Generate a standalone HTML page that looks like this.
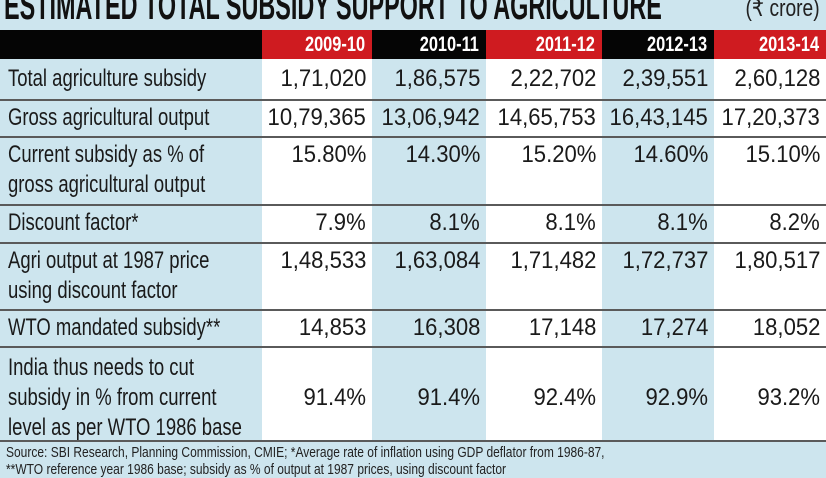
<!DOCTYPE html>
<html><head><meta charset="utf-8"><style>
*{margin:0;padding:0;box-sizing:border-box}
body{width:826px;height:465px;overflow:hidden;background:#cde5ee;position:relative;font-family:"Liberation Sans",sans-serif;color:#1a1a1a}
.a{position:absolute}
.title{left:4px;top:-16px;font-size:40px;font-weight:bold;white-space:nowrap;color:#111;transform:scaleX(0.585);transform-origin:left top}
.unit{right:6px;top:-6px;font-size:24px;color:#222;transform:scaleX(0.8);transform-origin:right top;white-space:nowrap}
.col{position:absolute;top:59px;height:382px}
.hd{position:absolute;top:30px;height:29px;color:#fff;font-weight:bold;font-size:21px;line-height:29px}
.hd span{position:absolute;right:7px;transform:scaleX(0.78);transform-origin:right center}
.line{position:absolute;left:0;width:826px;height:2px;background:#5a5a5a}
.lab{position:absolute;left:8px;font-size:24px;line-height:30px;white-space:nowrap;transform:scaleX(0.77);transform-origin:left top}
.v{position:absolute;font-size:24px;line-height:30px;white-space:nowrap;transform:scaleX(0.92);transform-origin:right top}
.foot{left:6px;font-size:15px;white-space:nowrap;color:#222;transform:scaleX(0.8);transform-origin:left top}
</style></head><body>
<div class="a title">ESTIMATED TOTAL SUBSIDY SUPPORT TO AGRICULTURE</div>
<div class="a unit">(₹ crore)</div>
<div class="a" style="left:0;top:30px;width:826px;height:29px;background:#050505"></div>
<div class="hd" style="left:262px;width:110px;background:#cf1b20"><span>2009-10</span></div>
<div class="hd" style="left:372px;width:114px"><span>2010-11</span></div>
<div class="hd" style="left:486px;width:116px;background:#cf1b20"><span>2011-12</span></div>
<div class="hd" style="left:602px;width:112px"><span>2012-13</span></div>
<div class="hd" style="left:714px;width:112px;background:#cf1b20"><span>2013-14</span></div>
<div class="col" style="left:262px;width:110px;background:#fff"></div>
<div class="col" style="left:486px;width:116px;background:#fff"></div>
<div class="col" style="left:714px;width:112px;background:#fff"></div>
<div class="line" style="top:99px"></div>
<div class="line" style="top:136px"></div>
<div class="line" style="top:204px"></div>
<div class="line" style="top:242px"></div>
<div class="line" style="top:309px"></div>
<div class="line" style="top:346px"></div>
<div class="line" style="top:440px"></div>

<div class="lab" style="top:64px">Total agriculture subsidy</div>
<div class="lab" style="top:103px">Gross agricultural output</div>
<div class="lab" style="top:140px">Current subsidy as % of<br>gross agricultural output</div>
<div class="lab" style="top:208px">Discount factor*</div>
<div class="lab" style="top:246px">Agri output at 1987 price<br>using discount factor</div>
<div class="lab" style="top:313px">WTO mandated subsidy**</div>
<div class="lab" style="top:353px">India thus needs to cut<br>subsidy in % from current<br>level as per WTO 1986 base</div>

<div id="vals"></div>
<script>
var cols=[[262,110],[372,114],[486,116],[602,112],[714,112]];
var rows=[[64,["1,71,020","1,86,575","2,22,702","2,39,551","2,60,128"]],
[103,["10,79,365","13,06,942","14,65,753","16,43,145","17,20,373"]],
[140,["15.80%","14.30%","15.20%","14.60%","15.10%"]],
[208,["7.9%","8.1%","8.1%","8.1%","8.2%"]],
[246,["1,48,533","1,63,084","1,71,482","1,72,737","1,80,517"]],
[313,["14,853","16,308","17,148","17,274","18,052"]],
[383,["91.4%","91.4%","92.4%","92.9%","93.2%"]]];
var h='';
rows.forEach(function(r){r[1].forEach(function(t,i){h+='<div class="v" style="top:'+r[0]+'px;right:'+(826-cols[i][0]-cols[i][1]+6)+'px">'+t+'</div>';});});
document.getElementById('vals').innerHTML=h;
</script>
<div class="a foot" style="top:444px">Source: SBI Research, Planning Commission, CMIE; *Average rate of inflation using GDP deflator from 1986-87,</div>
<div class="a foot" style="top:461px">**WTO reference year 1986 base; subsidy as % of output at 1987 prices, using discount factor</div>
</body></html>
